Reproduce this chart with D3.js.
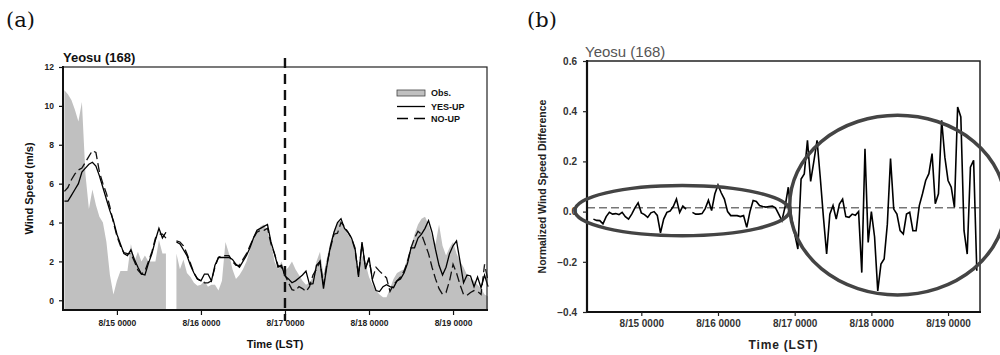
<!DOCTYPE html>
<html>
<head>
<meta charset="utf-8">
<script src="https://cdn.jsdelivr.net/npm/d3@7"></script>
<style>
  body { margin: 0; background: #fff; }
  text { font-family: "Liberation Sans", Arial, sans-serif; }
</style>
</head>
<body>
<div id="chart"></div>
<script>
// hours relative to 8/15 0000 LST
const hoursA = d3.range(-15, 107);
const hoursB = d3.range(-15, 106);

const dayTicks = [0, 24, 48, 72, 96];
const dayLabels = ['8/15 0000', '8/16 0000', '8/17 0000', '8/18 0000', '8/19 0000'];
const windTicks = [0, 2, 4, 6, 8, 10, 12];
const diffTicks = [-0.4, -0.2, 0.0, 0.2, 0.4, 0.6];

// (a) observed wind speed (m/s), gray area
const obs = [
  10.8, 10.6, 10.3, 9.8, 9.2, 10.2, 6.5, 4.7, 5.7, 4.9,
  4.3, 4.0, 3.0, 1.3, 0.3, 1.0, 1.5, 1.5, 1.5, 2.9,
  2.0, 2.5, 2.0, 2.3, 2.0, 2.0, 2.0, 3.1, 2.4, 2.4,
  null, null, 2.4, 1.6, 2.1, 1.4, 1.2, 0.9, 0.75, 0.8,
  1.0, 0.7, 0.8, 0.8, 0.5, 1.0, 3.0, 2.4, 1.6, 1.1,
  1.3, 1.6, 2.0, 2.6, 3.3, 3.6, 3.8, 3.9, 3.5, 3.0,
  2.0, 1.6, 2.0, 1.5, 1.7, 2.0, 1.6, 1.3, 1.0, 0.8,
  0.9, 1.2, 2.0, 2.5, 1.3, 2.2, 3.0, 3.6, 4.0, 4.1,
  3.8, 3.4, 3.1, 2.6, 1.7, 2.3, 1.9, 1.2, 0.8, 0.5,
  0.3, 0.15, 0.15, 0.6, 1.1, 1.4, 1.5, 1.6, 2.2, 2.7,
  3.4, 3.9, 4.2, 4.3, 3.9, 3.3, 2.9, 3.9, 2.8, 2.3,
  2.7, 3.0, 2.4, 2.0, 1.7, 1.3, 1.1, 1.0, 0.8, 0.6,
  0.3, 0.2
];

// (a) YES-UP run
const yesUp = [
  5.1, 5.1, 5.4, 5.7, 6.0, 6.6, 6.8, 7.0, 7.1, 6.9,
  6.4, 5.8, 5.2, 4.6, 4.1, 3.4, 2.9, 2.4, 2.3, 2.6,
  2.1, 1.7, 1.35, 1.3, 1.9, 2.4, 3.1, 3.7, 3.2, 3.5,
  null, null, 3.0, 2.9, 2.6, 2.3, 1.8, 1.4, 1.1, 1.0,
  1.35, 1.35, 1.0, 1.8, 2.2, 2.2, 2.2, 2.2, 2.1, 1.85,
  1.7, 2.0, 2.3, 2.7, 3.2, 3.6, 3.7, 3.8, 3.9, 3.0,
  2.4, 1.7, 1.8, 1.25, 1.1, 0.9, 1.0, 1.15, 1.3, 1.5,
  0.82, 0.85, 1.8, 2.0, 0.6, 1.8, 2.8, 3.5, 4.0, 4.2,
  3.7, 3.5, 3.2, 2.7, 1.2, 3.0, 1.6, 2.2, 1.0, 0.5,
  0.45, 0.7, 0.8, 0.7, 0.65, 1.0, 1.1, 1.4, 1.9, 2.7,
  2.7, 3.2, 3.4, 3.7, 4.1, 3.5, 2.6, 1.8, 1.3, 1.7,
  2.4, 2.8, 3.05, 2.0, 0.9, 1.3, 1.25, 0.7, 1.2, 0.65,
  1.3, 0.7
];

// (a) NO-UP run
const noUp = [
  5.6, 5.8, 6.2, 6.5, 6.7, 6.8, 7.1, 7.4, 7.7, 7.6,
  6.6, 6.0, 5.5, 4.8, 4.0, 3.3, 2.8, 2.45, 2.4, 2.4,
  2.0, 1.55, 1.35, 1.5, 2.0, 2.5, 3.2, 3.4, 3.4, 3.2,
  null, null, 3.05, 3.0, 2.8, 2.4, 1.9, 1.4, 1.1, 1.0,
  0.9, 0.9, 1.0, 1.7, 2.2, 2.3, 2.3, 2.3, 2.0, 1.8,
  1.8, 2.1, 2.4, 2.8, 3.2, 3.5, 3.6, 3.6, 3.7, 2.9,
  2.4, 1.8, 1.7, 1.3, 0.9, 0.55, 0.5, 0.7, 0.6, 0.45,
  0.7, 1.3, 1.6, 2.0, 0.8, 1.9, 2.7, 3.4, 3.45, 4.0,
  3.8, 3.5, 3.2, 2.6, 1.3, 2.9, 1.7, 2.1, 1.1, 1.7,
  1.5, 1.33, 1.15, 0.45, 0.8, 1.0, 1.2, 1.5, 2.0, 2.7,
  3.2, 3.55, 3.4, 2.9, 2.4, 1.7, 1.1, 0.6, 0.3, 0.4,
  1.0, 1.85, 1.4, 0.8, 0.3, 0.25, 0.4, 0.5, 0.45, 0.3,
  1.85, 1.0
];

// (b) normalized wind speed difference
const normDiff = [
  -0.03, -0.035, -0.036, -0.049, -0.02, -0.003, -0.01, -0.008, -0.012, -0.003,
  -0.02, -0.03, -0.01, 0.015, 0.035, -0.005, -0.012, -0.023, -0.005, 0.0,
  -0.015, -0.085, -0.03, -0.003, 0.002, 0.02, 0.05, -0.003, 0.022, 0.01,
  null, -0.003, -0.01, -0.01, -0.008, 0.012, 0.045, 0.004, 0.07, 0.106,
  0.075, 0.05, 0.0, -0.016, -0.016, -0.016, -0.02, -0.016, -0.063, 0.0,
  0.044, 0.04, 0.024, 0.02, 0.018, 0.02, 0.022, 0.015, -0.01, -0.036,
  0.02, 0.097, -0.023, -0.089, -0.149, 0.13, 0.15, 0.284, 0.12, 0.2,
  0.284, 0.137, -0.023, -0.169, -0.01, 0.024, -0.03, 0.03, 0.05, -0.02,
  -0.023, -0.01, -0.015, 0.0, -0.243, 0.25, -0.123, 0.0, -0.1, -0.316,
  -0.209, -0.189, -0.05, 0.211, 0.01, -0.01, -0.076, -0.089, -0.01, -0.003,
  -0.076, -0.076, 0.024, 0.071, 0.124, 0.151, 0.231, 0.031, 0.071, 0.364,
  0.217, 0.124, 0.097, 0.017, 0.417, 0.377, -0.076, -0.169, 0.177, 0.204,
  -0.236
];
const refLevel = 0.015;

// annotation ellipses in data units: [centerHour, centerValue, halfHours, halfValue]
const ellipses = [
  [12.8, 0.004, 33.6, 0.1],
  [80.2, 0.026, 33.75, 0.358]
];

const svg = d3.select('#chart').append('svg')
  .attr('width', 1000)
  .attr('height', 355)
  .style('background', '#fff');

// panel labels
svg.append('text').attr('x', 6).attr('y', 27)
  .style('font-family', '"DejaVu Serif", serif').style('font-size', '21px')
  .attr('fill', '#111').text('(a)');
svg.append('text').attr('x', 527).attr('y', 27)
  .style('font-family', '"DejaVu Serif", serif').style('font-size', '21px')
  .attr('fill', '#111').text('(b)');

// ---------------- panel (a) ----------------
const xa = d3.scaleLinear().domain([-15.4, 105.7]).range([63, 487]);
const ya = d3.scaleLinear().domain([-0.5, 12]).range([310, 67]);

const ga = svg.append('g');

const obsRows = hoursA.map((h, i) => ({ h, v: obs[i] }));
ga.append('path')
  .datum(obsRows)
  .attr('fill', '#c0c0c0')
  .attr('d', d3.area()
    .defined(d => d.v != null)
    .x(d => xa(d.h))
    .y0(ya(-0.5))
    .y1(d => ya(d.v)));

const lineA = d3.line()
  .defined(d => d.v != null)
  .x(d => xa(d.h))
  .y(d => ya(d.v));

ga.append('path')
  .datum(hoursA.map((h, i) => ({ h, v: noUp[i] })))
  .attr('fill', 'none')
  .attr('stroke', '#111')
  .attr('stroke-width', 1.3)
  .attr('stroke-dasharray', '9,4')
  .attr('d', lineA);

ga.append('path')
  .datum(hoursA.map((h, i) => ({ h, v: yesUp[i] })))
  .attr('fill', 'none')
  .attr('stroke', '#000')
  .attr('stroke-width', 1.3)
  .attr('d', lineA);

// frame
ga.append('rect')
  .attr('x', 63).attr('y', 67).attr('width', 424).attr('height', 243)
  .attr('fill', 'none').attr('stroke', '#222').attr('stroke-width', 1.2);
ga.append('line').attr('x1', 63).attr('x2', 63).attr('y1', 66).attr('y2', 311)
  .attr('stroke', '#111').attr('stroke-width', 2);
ga.append('line').attr('x1', 62).attr('x2', 488).attr('y1', 310).attr('y2', 310)
  .attr('stroke', '#111').attr('stroke-width', 2);

// axes
const axA = ga.append('g').attr('transform', 'translate(63,0)')
  .call(d3.axisLeft(ya).tickValues(windTicks).tickSize(4).tickPadding(5));
const bxA = ga.append('g').attr('transform', 'translate(0,310)')
  .call(d3.axisBottom(xa).tickValues(dayTicks)
    .tickFormat((d, i) => dayLabels[i]).tickSize(5).tickPadding(5));
[axA, bxA].forEach(a => {
  a.select('.domain').remove();
  a.selectAll('line').attr('stroke', '#111').attr('stroke-width', 1.2);
  a.selectAll('text').style('font-size', '8.5px').style('font-weight', 'bold')
    .style('font-family', '"Liberation Sans", Arial, sans-serif').attr('fill', '#222');
});

// 8/17 0000 marker
ga.append('line')
  .attr('x1', xa(48)).attr('x2', xa(48))
  .attr('y1', 58).attr('y2', 321)
  .attr('stroke', '#111').attr('stroke-width', 2.4)
  .attr('stroke-dasharray', '10,6');

// titles
ga.append('text').attr('x', 63).attr('y', 61.5)
  .style('font-size', '13px').style('font-weight', 'bold').attr('fill', '#111')
  .text('Yeosu (168)');
ga.append('text').attr('x', 275).attr('y', 348)
  .attr('text-anchor', 'middle')
  .style('font-size', '11px').style('font-weight', 'bold').attr('fill', '#111')
  .text('Time (LST)');
ga.append('text')
  .attr('transform', 'translate(33,188.5) rotate(-90)')
  .attr('text-anchor', 'middle')
  .style('font-size', '11px').style('font-weight', 'bold').attr('fill', '#111')
  .text('Wind Speed (m/s)');

// legend
const lg = ga.append('g').attr('transform', 'translate(397,0)');
lg.append('rect').attr('x', 0).attr('y', 90).attr('width', 28).attr('height', 6)
  .attr('fill', '#c0c0c0').attr('stroke', '#444').attr('stroke-width', 0.8);
lg.append('line').attr('x1', 0).attr('x2', 28).attr('y1', 106.5).attr('y2', 106.5)
  .attr('stroke', '#000').attr('stroke-width', 1.3);
lg.append('line').attr('x1', 0).attr('x2', 28).attr('y1', 118.5).attr('y2', 118.5)
  .attr('stroke', '#000').attr('stroke-width', 1.3).attr('stroke-dasharray', '11,6');
[['Obs.', 96], ['YES-UP', 109.5], ['NO-UP', 121.5]].forEach(([t, y]) => {
  lg.append('text').attr('x', 34).attr('y', y)
    .style('font-size', '9px').style('font-weight', 'bold').attr('fill', '#111').text(t);
});

// ---------------- panel (b) ----------------
const xb = d3.scaleLinear().domain([-17, 106]).range([587, 980]);
const yb = d3.scaleLinear().domain([-0.4, 0.6]).range([312, 61]);

const gb = svg.append('g');

gb.append('line')
  .attr('x1', xb(-17)).attr('x2', xb(106))
  .attr('y1', yb(refLevel)).attr('y2', yb(refLevel))
  .attr('stroke', '#333').attr('stroke-width', 1)
  .attr('stroke-dasharray', '8,4');

gb.append('path')
  .datum(hoursB.map((h, i) => ({ h, v: normDiff[i] })))
  .attr('fill', 'none')
  .attr('stroke', '#000')
  .attr('stroke-width', 1.6)
  .attr('stroke-linejoin', 'miter')
  .attr('d', d3.line()
    .defined(d => d.v != null)
    .x(d => xb(d.h))
    .y(d => yb(d.v)));

gb.append('rect')
  .attr('x', 587).attr('y', 61).attr('width', 393).attr('height', 251)
  .attr('fill', 'none').attr('stroke', '#222').attr('stroke-width', 1.5);
gb.append('line').attr('x1', 587).attr('x2', 587).attr('y1', 60).attr('y2', 313)
  .attr('stroke', '#111').attr('stroke-width', 2.2);
gb.append('line').attr('x1', 586).attr('x2', 981).attr('y1', 312).attr('y2', 312)
  .attr('stroke', '#111').attr('stroke-width', 2.2);

const axB = gb.append('g').attr('transform', 'translate(587,0)')
  .call(d3.axisLeft(yb).tickValues(diffTicks).tickFormat(d3.format('.1f'))
    .tickSize(4).tickPadding(6));
const bxB = gb.append('g').attr('transform', 'translate(0,312)')
  .call(d3.axisBottom(xb).tickValues(dayTicks)
    .tickFormat((d, i) => dayLabels[i]).tickSize(4).tickPadding(4));
[axB, bxB].forEach(a => {
  a.select('.domain').remove();
  a.selectAll('line').attr('stroke', '#222').attr('stroke-width', 1.2);
  a.selectAll('text').style('font-size', '10px').style('font-weight', 'bold')
    .style('font-family', '"Liberation Sans", Arial, sans-serif').attr('fill', '#333');
});

// ellipses
gb.selectAll('ellipse')
  .data(ellipses)
  .join('ellipse')
  .attr('cx', d => xb(d[0]))
  .attr('cy', d => yb(d[1]))
  .attr('rx', d => xb(d[0] + d[2]) - xb(d[0]))
  .attr('ry', d => yb(d[1] - d[3]) - yb(d[1]))
  .attr('fill', 'none')
  .attr('stroke', '#444')
  .attr('stroke-width', 3.5);

gb.append('text').attr('x', 585).attr('y', 57)
  .style('font-size', '15px').attr('fill', '#555')
  .text('Yeosu (168)');
gb.append('text').attr('x', 783.5).attr('y', 349)
  .attr('text-anchor', 'middle')
  .style('font-size', '12px').style('font-weight', 'bold')
  .style('letter-spacing', '0.8px').attr('fill', '#222')
  .text('Time (LST)');
gb.append('text')
  .attr('transform', 'translate(546,186.5) rotate(-90)')
  .attr('text-anchor', 'middle')
  .style('font-size', '10.5px').style('font-weight', 'bold').attr('fill', '#222')
  .text('Normalized Wind Speed Difference');
</script>
</body>
</html>
